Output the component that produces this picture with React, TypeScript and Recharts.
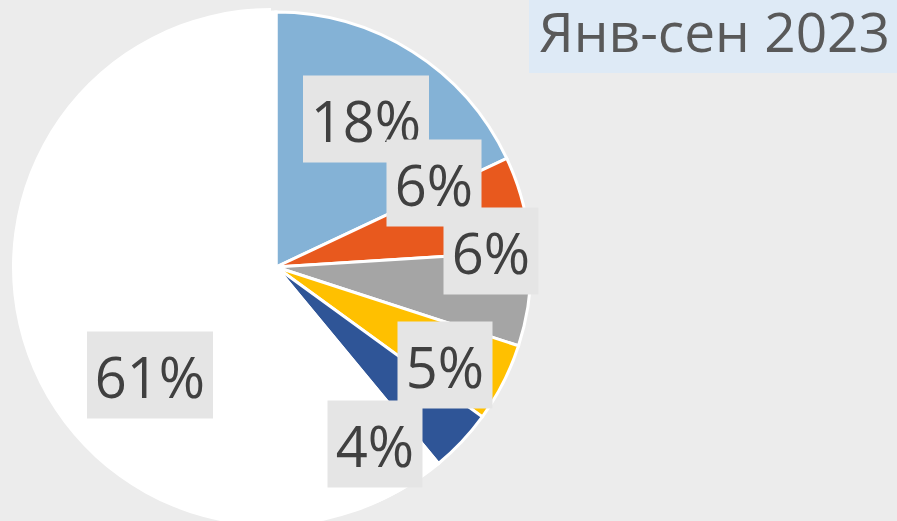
import React from "react";
import { PieChart, Pie, Cell } from "recharts";

// Shares for Jan-Sep 2023, clockwise from 12 o'clock
const categories = ["Категория 1", "Категория 2", "Категория 3", "Категория 4", "Категория 5", "Прочее"];
const shares = [18, 6, 6, 5, 4, 61];
const title = "Янв-сен 2023";

const COLORS = ["#84B2D6", "#E8591E", "#A5A5A5", "#FFC000", "#2F5597", "#FFFFFF"];

// label box centre offsets from the pie centre (Excel "best fit" placement)
const LABEL_OFFSETS: [number, number][] = [
  [90, -148],
  [158, -84],
  [215, -16],
  [169, 98],
  [99, 177],
  [-126, 108],
];

const data = categories.map((name, i) => ({ name, value: shares[i] }));
const LAST = data.length - 1;

const FONT = "'Open Sans', 'DejaVu Sans', sans-serif";

const renderLabel = (props: any) => {
  const { cx, cy, index, value } = props;
  const [dx, dy] = LABEL_OFFSETS[index];
  const text = `${value}%`;
  const w = 33 + 31 * text.length;
  const h = 87;
  const x = cx + dx;
  const y = cy + dy;
  return (
    <g key={`lbl-${index}`}>
      <rect x={x - w / 2} y={y - h / 2} width={w} height={h} fill="#E5E5E5" />
      <text
        x={x}
        y={y + 1}
        textAnchor="middle"
        dominantBaseline="central"
        fontFamily={FONT}
        fontSize={56}
        fill="#404040"
      >
        {text}
      </text>
    </g>
  );
};

export default function App() {
  return (
    <div style={{ position: "absolute", left: 0, top: 0, width: 897, height: 521, background: "#ECECEC", overflow: "hidden" }}>
      <PieChart width={897} height={521} margin={{ top: 0, right: 0, bottom: 0, left: 0 }}>
        {/* slightly pulled-out big white slice, drawn underneath */}
        <Pie
          data={data}
          dataKey="value"
          cx={271}
          cy={267}
          outerRadius={259}
          startAngle={90}
          endAngle={-270}
          stroke="none"
          isAnimationActive={false}
        >
          {data.map((entry, index) => (
            <Cell key={`bg-${index}`} fill={index === LAST ? "#FFFFFF" : "transparent"} />
          ))}
        </Pie>
        <Pie
          data={data}
          dataKey="value"
          nameKey="name"
          cx={276}
          cy={267}
          outerRadius={255}
          startAngle={90}
          endAngle={-270}
          stroke="#FFFFFF"
          strokeWidth={3}
          label={renderLabel}
          labelLine={false}
          isAnimationActive={false}
        >
          {data.map((entry, index) => (
            <Cell key={`cell-${index}`} fill={COLORS[index]} />
          ))}
        </Pie>
      </PieChart>
      <div
        style={{
          position: "absolute",
          left: 529,
          top: 0,
          width: 368,
          height: 73,
          background: "#DEEAF6",
        }}
      />
      <div
        style={{
          position: "absolute",
          left: 539,
          top: 0,
          fontFamily: FONT,
          fontSize: 55,
          lineHeight: "62px",
          color: "#595959",
          whiteSpace: "nowrap",
        }}
      >
        {title}
      </div>
    </div>
  );
}
